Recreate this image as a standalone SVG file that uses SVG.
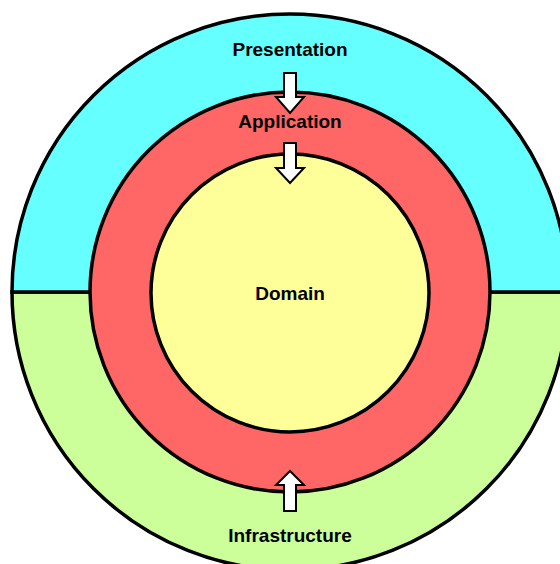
<svg xmlns="http://www.w3.org/2000/svg" width="560" height="564" viewBox="0 0 560 564">
<defs>
<style>
.ring{stroke:#000;stroke-width:3.5}
.lbl{font-family:"Liberation Sans",Arial,sans-serif;font-weight:bold;font-size:19px;fill:#000;text-anchor:middle}
.arr{fill:#fff;stroke:#000;stroke-width:2;stroke-linejoin:miter}
</style>
</defs>
<rect width="560" height="564" fill="#fff"/>
<g id="infrastructure">
<path class="ring" d="M12,292 A278,278 0 0 0 568,292 Z" fill="#CCFF99"/>
<text class="lbl" x="290" y="542">Infrastructure</text>
</g>
<g id="presentation">
<path class="ring" d="M12,292 A278,278 0 0 1 568,292 Z" fill="#66FFFF"/>
<text class="lbl" x="290" y="56">Presentation</text>
</g>
<g id="application">
<circle class="ring" cx="290" cy="292" r="200" fill="#FF6666"/>
<text class="lbl" x="290" y="128">Application</text>
</g>
<g id="domain">
<circle class="ring" cx="290" cy="293" r="139" fill="#FFFF99"/>
<text class="lbl" x="290" y="300">Domain</text>
</g>
<g id="connectors">
<path class="arr" d="M284,73 H296 V97 H304 L290,113 L276,97 H284 Z"/>
<path class="arr" d="M284,143 H296 V168 H304 L290,183 L276,168 H284 Z"/>
<path class="arr" d="M284,511 H296 V485 H304 L290,471 L276,485 H284 Z"/>
</g>
</svg>
